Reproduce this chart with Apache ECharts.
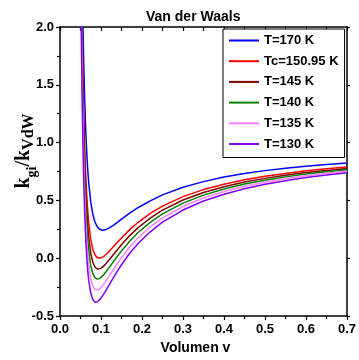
<!DOCTYPE html>
<html>
<head>
<meta charset="utf-8">
<script src="https://cdn.jsdelivr.net/npm/echarts@6/dist/echarts.min.js"></script>
<style>
html,body{margin:0;padding:0;background:#fff;}
#chart{width:359px;height:360px;}
</style>
</head>
<body>
<div id="chart"></div>
<script>
// Volumen v (x values shared by all curves)
var volumes = [0.05,0.0525,0.055,0.0575,0.06,0.0625,0.065,0.0675,0.07,0.075,0.08,0.085,0.09,0.095,0.10,0.105,0.11,0.12,0.13,0.14,0.15,0.17,0.19,0.22,0.25,0.30,0.35,0.40,0.45,0.50,0.55,0.60,0.65,0.70];
// k_gi/k_VdW for each temperature
var t170 = [3.881,2.907,2.232,1.750,1.396,1.131,0.930,0.774,0.654,0.485,0.381,0.316,0.278,0.256,0.246,0.243,0.246,0.262,0.285,0.310,0.338,0.390,0.437,0.497,0.548,0.614,0.663,0.702,0.733,0.758,0.778,0.796,0.811,0.824];
var tc15095 = [3.397,2.446,1.792,1.330,0.993,0.744,0.558,0.416,0.308,0.163,0.079,0.031,0.009,0.001,0.004,0.012,0.026,0.060,0.099,0.138,0.176,0.248,0.309,0.388,0.451,0.533,0.594,0.641,0.679,0.709,0.734,0.756,0.774,0.790];
var t145 = [3.220,2.277,1.631,1.175,0.845,0.602,0.421,0.285,0.182,0.045,-0.032,-0.073,-0.090,-0.092,-0.085,-0.072,-0.055,-0.013,0.031,0.074,0.117,0.196,0.263,0.347,0.416,0.504,0.569,0.619,0.659,0.691,0.718,0.741,0.760,0.777];
var t140 = [3.059,2.124,1.485,1.036,0.711,0.474,0.298,0.166,0.067,-0.062,-0.132,-0.167,-0.179,-0.177,-0.165,-0.148,-0.128,-0.080,-0.031,0.017,0.064,0.148,0.221,0.311,0.384,0.477,0.546,0.599,0.642,0.675,0.704,0.728,0.748,0.765];
var t135 = [2.887,1.960,1.328,0.886,0.568,0.336,0.165,0.038,-0.056,-0.177,-0.240,-0.269,-0.275,-0.268,-0.252,-0.231,-0.206,-0.152,-0.097,-0.045,0.006,0.098,0.175,0.272,0.349,0.448,0.521,0.577,0.622,0.658,0.688,0.714,0.735,0.753];
var t130 = [2.701,1.783,1.159,0.725,0.413,0.187,0.023,-0.100,-0.189,-0.301,-0.356,-0.378,-0.378,-0.365,-0.344,-0.319,-0.290,-0.229,-0.169,-0.111,-0.056,0.043,0.126,0.229,0.312,0.417,0.495,0.554,0.602,0.640,0.671,0.698,0.720,0.740];

var seriesNames = ['T=170 K','Tc=150.95 K','T=145 K','T=140 K','T=135 K','T=130 K'];
var seriesValues = [t170, tc15095, t145, t140, t135, t130];
var seriesColors = ['#0000ff','#ff0000','#800000','#008000','#ff80ff','#8000ff'];

var xTicks = {min:0, max:0.7, interval:0.1};
var yTicks = {min:-0.5, max:2.0, interval:0.5};

var FONT = 'Liberation Sans';

function pairs(ys){ return volumes.map(function(v,i){ return [v, ys[i]]; }); }

var chart = echarts.init(document.getElementById('chart'), null, {renderer:'canvas'});

var axisLineStyle = {color:'#000', width:1.5};
var labelStyle = {color:'#000', fontWeight:'bold', fontSize:13, fontFamily:FONT};

var option = {
  animation:false,
  backgroundColor:'#fff',
  title:{
    text:'Van der Waals', left:141, top:5,
    textStyle:{fontFamily:FONT, fontWeight:'bold', fontSize:14, color:'#000'}
  },
  grid:{left:60, right:11, top:27, bottom:43, containLabel:false},
  legend:{
    orient:'vertical', left:223, top:29,
    itemWidth:30, itemHeight:14, itemGap:7.7,
    padding:[5,6,7,5],
    borderColor:'#000', borderWidth:1, backgroundColor:'#fff',
    itemStyle:{opacity:0},
    textStyle:{fontFamily:FONT, fontWeight:'bold', fontSize:13, color:'#000'},
    data:seriesNames
  },
  xAxis:[{
    type:'value', position:'bottom', min:xTicks.min, max:xTicks.max, interval:xTicks.interval,
    axisLine:{show:true, onZero:false, lineStyle:axisLineStyle},
    axisTick:{show:true, inside:false, length:4, lineStyle:{color:'#000', width:1.2}},
    minorTick:{show:true, splitNumber:2, length:3, lineStyle:{color:'#000', width:1.2}},
    splitLine:{show:false},
    axisLabel:Object.assign({margin:7, formatter:function(v){return v.toFixed(1);}}, labelStyle),
    name:'Volumen v', nameLocation:'middle', nameGap:21,
    nameTextStyle:{fontFamily:FONT, fontWeight:'bold', fontSize:14, color:'#000', padding:[0,16,0,0]}
  },{
    type:'value', position:'top', min:xTicks.min, max:xTicks.max, interval:xTicks.interval,
    axisLine:{show:true, onZero:false, lineStyle:axisLineStyle},
    axisTick:{show:true, inside:true, length:4, lineStyle:{color:'#000', width:1.2}},
    minorTick:{show:true, splitNumber:2, length:4, lineStyle:{color:'#000', width:1.2}},
    splitLine:{show:false}, axisLabel:{show:false}
  }],
  yAxis:[{
    type:'value', position:'left', min:yTicks.min, max:yTicks.max, interval:yTicks.interval,
    axisLine:{show:true, onZero:false, lineStyle:axisLineStyle},
    axisTick:{show:true, inside:false, length:4, lineStyle:{color:'#000', width:1.2}},
    minorTick:{show:true, splitNumber:2, length:3, lineStyle:{color:'#000', width:1.2}},
    splitLine:{show:false},
    axisLabel:Object.assign({margin:6, formatter:function(v){return v.toFixed(1);}}, labelStyle)
  },{
    type:'value', position:'right', min:yTicks.min, max:yTicks.max, interval:yTicks.interval,
    axisLine:{show:true, onZero:false, lineStyle:axisLineStyle},
    axisTick:{show:true, inside:false, length:3, lineStyle:{color:'#000', width:1.2}},
    minorTick:{show:false},
    splitLine:{show:false}, axisLabel:{show:false}
  }],
  graphic:[{
    type:'text', x:24, y:151, rotation:Math.PI/2,
    style:{
      text:'{k|k}{s|gi}{k|/k}{v|VdW}',
      align:'center', verticalAlign:'middle',
      rich:{
        k:{fontFamily:'Liberation Serif', fontWeight:'bold', fontSize:20, lineHeight:22, fill:'#000'},
        s:{fontFamily:'Liberation Serif', fontWeight:'bold', fontSize:14, lineHeight:14, verticalAlign:'bottom', padding:[0,0,-4,0], fill:'#000'},
        v:{fontFamily:'Liberation Serif', fontWeight:'bold', fontSize:16, lineHeight:16, verticalAlign:'bottom', padding:[0,0,-2,0], fill:'#000'}
      }
    }
  }],
  series: seriesNames.map(function(name, i){
    return {
      name:name, type:'line', xAxisIndex:0, yAxisIndex:0,
      data:pairs(seriesValues[i]),
      symbol:'none', showSymbol:false, clip:true,
      lineStyle:{color:seriesColors[i], width:1.5},
      itemStyle:{color:seriesColors[i]}
    };
  })
};
chart.setOption(option);
</script>
</body>
</html>
